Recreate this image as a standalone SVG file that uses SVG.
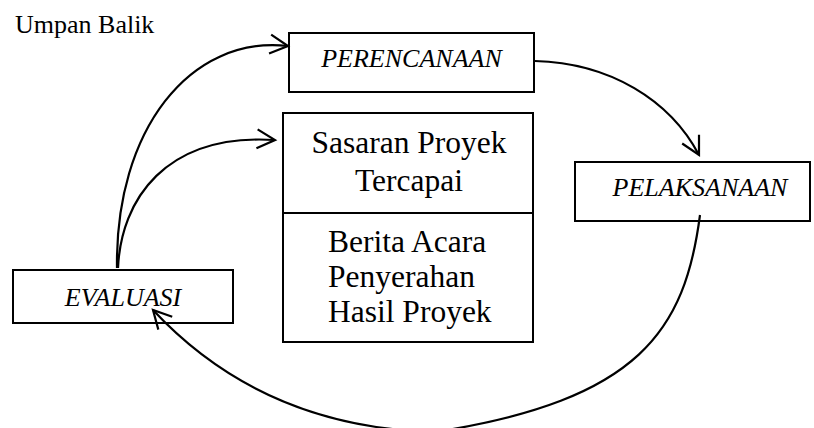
<svg xmlns="http://www.w3.org/2000/svg" width="814" height="428" viewBox="0 0 814 428">
<defs>
<style>
.box{fill:#fff;stroke:#000;stroke-width:2}
.lbl{fill:#000}
.it{font-style:italic;font-size:26px;text-anchor:middle}
.big{font-size:31.5px}
.conn path{fill:none;stroke:#000;stroke-width:2.2;marker-end:url(#arr)}
</style>
<marker id="arr" markerUnits="userSpaceOnUse" viewBox="-20 -12 24 24" markerWidth="24" markerHeight="24" refX="0" refY="0" orient="auto" overflow="visible">
<path d="M-18,-9.5 L0,0 L-18,9.5" fill="none" stroke="#000" stroke-width="2.2"/>
</marker>
</defs>
<rect width="814" height="428" fill="#fff"/>
<g font-family="Liberation Serif, Times New Roman, DejaVu Serif, serif">
<text class="lbl" x="15" y="33" font-size="26">Umpan Balik</text>
<g id="perencanaan">
<rect class="box" x="289" y="33" width="245" height="59"/>
<text class="lbl it" x="411.5" y="67">PERENCANAAN</text>
</g>
<g id="pelaksanaan">
<rect class="box" x="575" y="162" width="235" height="59"/>
<text class="lbl it" x="700" y="196">PELAKSANAAN</text>
</g>
<g id="evaluasi">
<rect class="box" x="13" y="270" width="220" height="53"/>
<text class="lbl it" x="123" y="306">EVALUASI</text>
</g>
<g id="hasil">
<rect class="box" x="283" y="113" width="250" height="229"/>
<line x1="283" y1="213" x2="533" y2="213" stroke="#000" stroke-width="2"/>
<text class="lbl big" x="409" y="153" text-anchor="middle">Sasaran Proyek</text>
<text class="lbl big" x="409" y="191" text-anchor="middle">Tercapai</text>
<text class="lbl big" x="328" y="252">Berita Acara</text>
<text class="lbl big" x="328" y="287">Penyerahan</text>
<text class="lbl big" x="328" y="322">Hasil Proyek</text>
</g>
</g>
<g id="connectors" class="conn">
<path d="M117,268 C115,130 190,35 288,46"/>
<path d="M118,268 C121,200 165,133 275,140"/>
<path d="M535,61 C610,63 670,100 699,155"/>
<path d="M700,215 C685,330 640,400 435,432 C280,428 195,355 153,310"/>
</g>
</svg>
